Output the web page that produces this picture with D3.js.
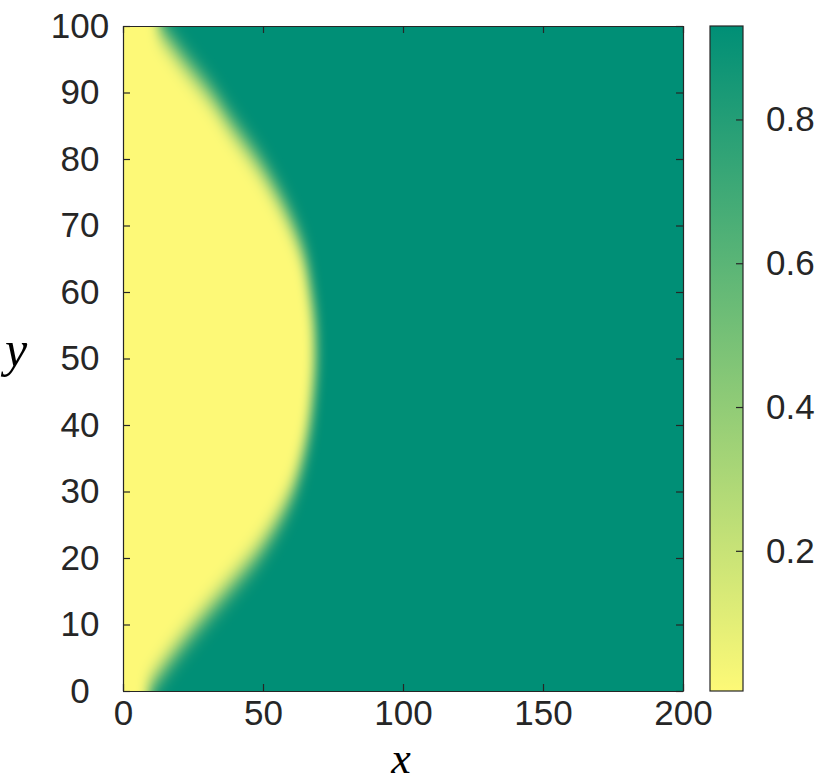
<!DOCTYPE html>
<html>
<head>
<meta charset="utf-8">
<script src="https://cdn.jsdelivr.net/npm/d3@7"></script>
<style>
  body { margin: 0; background: #fff; }
  svg { display: block; }
  .tick text { font-family: "Liberation Sans", Arial, sans-serif; font-size: 35px; fill: #262626; }
  .lbl { font-family: "Liberation Serif", "DejaVu Serif", serif; font-style: italic; font-size: 50px; fill: #000; }
</style>
</head>
<body>
<script>
// front position (x) at each y level
const yLevels = [0, 5, 10, 15, 20, 25, 30, 35, 40, 45, 50, 55, 60, 65, 70, 75, 80, 85, 90, 95, 100];
const frontX  = [8.9, 17.3, 26.8, 37, 47, 54.8, 60.7, 64.3, 66.7, 68, 68.8, 68.5, 67, 65, 60.7, 54.8, 47.6, 39, 31, 21.4, 12.5];

// field values on each side of the front
const insideValue = 0.005;
const outsideValue = 0.93;

const colorRange = ["#fdf977", "#008f76"];
const xTicks = [0, 50, 100, 150, 200];
const yTicks = [0, 10, 20, 30, 40, 50, 60, 70, 80, 90, 100];
const cbTicks = [0.2, 0.4, 0.6, 0.8];

window.onload = function() {

    const width = 830, height = 783;
    const left = 123, right = 683, top = 26, bottom = 691;
    const cbLeft = 710, cbRight = 743;

    const x = d3.scaleLinear().domain([0, 200]).range([left, right]);
    const y = d3.scaleLinear().domain([0, 100]).range([bottom, top]);
    const cScale = d3.scaleLinear().domain([insideValue, outsideValue]).range([bottom, top]);
    const color = d3.scaleLinear().domain([insideValue, outsideValue]).range(colorRange);

    const svg = d3.select("body").append("svg")
        .attr("width", width)
        .attr("height", height);

    const defs = svg.append("defs");

    defs.append("clipPath").attr("id", "plotClip")
        .append("rect")
            .attr("x", left).attr("y", top)
            .attr("width", right - left).attr("height", bottom - top);

    defs.append("filter").attr("id", "soft")
        .attr("filterUnits", "userSpaceOnUse")
        .attr("x", 0).attr("y", -200).attr("width", width).attr("height", height + 400)
        .append("feGaussianBlur")
            .attr("stdDeviation", "6 14");

    const grad = defs.append("linearGradient").attr("id", "cbGrad")
        .attr("x1", 0).attr("y1", 1).attr("x2", 0).attr("y2", 0);
    grad.append("stop").attr("offset", 0).attr("stop-color", color(insideValue));
    grad.append("stop").attr("offset", 1).attr("stop-color", color(outsideValue));

    // field
    const field = svg.append("g").attr("clip-path", "url(#plotClip)");

    field.append("rect")
        .attr("x", left).attr("y", top)
        .attr("width", right - left).attr("height", bottom - top)
        .attr("fill", color(outsideValue));

    const front = yLevels.map(function(v, i) { return {y: v, x: frontX[i]}; });

    const area = d3.area()
        .y(function(d) { return y(d.y); })
        .x0(x(-30))
        .x1(function(d) { return x(d.x); })
        .curve(d3.curveMonotoneY);

    const blob = field.append("g").attr("filter", "url(#soft)");

    blob.append("path")
        .attr("d", area(front))
        .attr("fill", color(insideValue));

    // carry the region past the top and bottom edges so the blur does not fade there
    blob.append("rect")
        .attr("x", x(-30)).attr("y", y(115))
        .attr("width", x(front[front.length - 1].x) - x(-30))
        .attr("height", y(100) - y(115) + 1)
        .attr("fill", color(insideValue));
    blob.append("rect")
        .attr("x", x(-30)).attr("y", y(0) - 1)
        .attr("width", x(front[0].x) - x(-30))
        .attr("height", y(-15) - y(0) + 1)
        .attr("fill", color(insideValue));

    // axes, ticks inward on all four sides
    const axisColor = "#262626";

    const gx = svg.append("g")
        .attr("transform", "translate(0," + bottom + ")")
        .call(d3.axisBottom(x).tickValues(xTicks).tickSize(-7).tickSizeOuter(0).tickPadding(10));
    gx.selectAll(".tick text").attr("dy", "0.72em").attr("y", 9);

    const gy = svg.append("g")
        .attr("transform", "translate(" + left + ",0)")
        .call(d3.axisLeft(y).tickValues(yTicks).tickSize(-7).tickSizeOuter(0));
    gy.selectAll(".tick text")
        .attr("text-anchor", "middle")
        .attr("x", 80 - left);

    svg.append("g")
        .attr("transform", "translate(0," + top + ")")
        .call(d3.axisTop(x).tickValues(xTicks).tickSize(-7).tickSizeOuter(0).tickFormat(""));

    svg.append("g")
        .attr("transform", "translate(" + right + ",0)")
        .call(d3.axisRight(y).tickValues(yTicks).tickSize(-7).tickSizeOuter(0).tickFormat(""));

    svg.selectAll(".domain, .tick line")
        .attr("stroke", axisColor)
        .attr("stroke-width", 1.2);

    // colorbar
    svg.append("rect")
        .attr("x", cbLeft).attr("y", top)
        .attr("width", cbRight - cbLeft).attr("height", bottom - top)
        .attr("fill", "url(#cbGrad)")
        .attr("stroke", axisColor)
        .attr("stroke-width", 1.2);

    const gc = svg.append("g")
        .attr("transform", "translate(" + cbRight + ",0)")
        .call(d3.axisRight(cScale).tickValues(cbTicks).tickSize(-7).tickSizeOuter(0)
            .tickPadding(23).tickFormat(d3.format(".1f")));
    gc.select(".domain").remove();
    gc.selectAll(".tick line").attr("stroke", axisColor).attr("stroke-width", 1.2);

    // axis labels
    svg.append("text").attr("class", "lbl")
        .attr("x", (left + right) / 2 - 2).attr("y", 773)
        .style("font-size", "44px")
        .attr("text-anchor", "middle")
        .text("x");

    svg.append("text").attr("class", "lbl")
        .attr("x", 16).attr("y", 366)
        .attr("text-anchor", "middle")
        .text("y");
}
</script>
</body>
</html>
